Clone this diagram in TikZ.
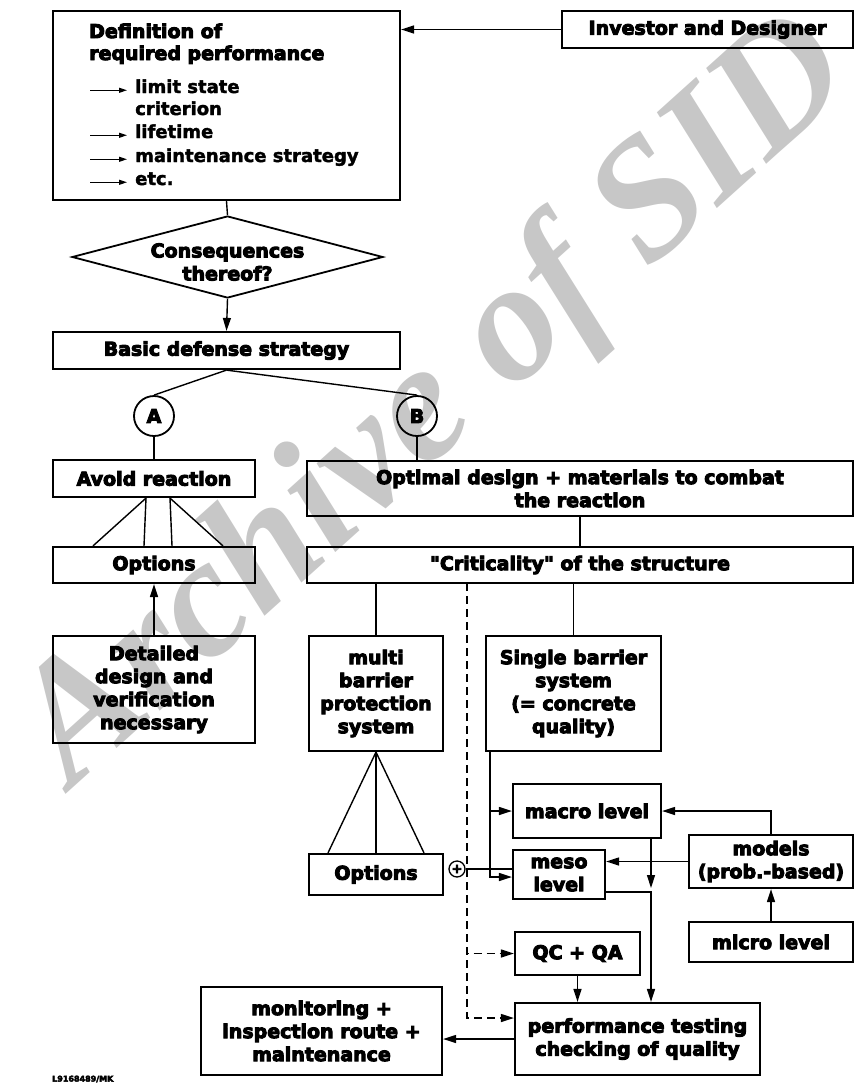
\documentclass[tikz,border=0pt]{standalone}
\usepackage{fontspec}
\setmainfont{DejaVu Sans}[BoldFeatures={FakeBold=5}]
\newfontfamily\itemfam{DejaVu Sans}[BoldFeatures={FakeBold=2}]
\newfontfamily\quotefam{DejaVu Sans}[BoldFeatures={FakeBold=5}]
\newfontfamily\wmfont{Liberation Serif}
\usetikzlibrary{arrows.meta,shapes.geometric}

\newcommand{\heavy}{\bfseries\fontsize{19}{23}\selectfont}
\newcommand{\itemtext}{\itemfam\bfseries\fontsize{18}{23}\selectfont}
\newcommand{\dq}{{\quotefam\bfseries"}}

\begin{document}
\begin{tikzpicture}[x=1pt,y=-1pt,
	box/.style={draw,line width=2.2pt,align=center,inner sep=0pt,font=\heavy},
	con/.style={line width=1.4pt},
	arr/.style={con,-{Triangle[length=13pt,width=8pt]}},
	darr/.style={arr,dash pattern=on 8pt off 5pt},
	itemarr/.style={line width=1.2pt,-{Triangle[length=8pt,width=5pt]}},
	ring/.style={draw,circle,line width=1.8pt,minimum size=40pt,inner sep=0pt,font=\heavy}]

	\useasboundingbox (0,0) rectangle (854,1085);

	% watermark
	\node[rotate=42,text=black!22,font=\wmfont\bfseries\itshape\fontsize{170}{170}\selectfont] (wm) at (438,404) {Archive of SID};

	% top part
	\node[box,minimum width=347pt,minimum height=189pt] (def) at (226.5,105.5) {};
	\node[anchor=base west,inner sep=0pt,font=\heavy] (title1) at (89,38) {Definition of};
	\node[anchor=base west,inner sep=0pt,font=\heavy] (title2) at (89,60) {required performance};
	\node[anchor=base west,inner sep=0pt,font=\itemtext] (it1) at (135,93) {limit state};
	\node[anchor=base west,inner sep=0pt,font=\itemtext] (it1b) at (135,115) {criterion};
	\node[anchor=base west,inner sep=0pt,font=\itemtext] (it2) at (135,138) {lifetime};
	\node[anchor=base west,inner sep=0pt,font=\itemtext] (it3) at (135,162) {maintenance strategy};
	\node[anchor=base west,inner sep=0pt,font=\itemtext] (it4) at (135,185) {etc.};
	\foreach \n in {it1,it2,it3,it4}
		\draw[itemarr] ([xshift=-45pt]\n.mid west) -- ([xshift=-8pt]\n.mid west);

	\node[box,minimum width=291pt,minimum height=37pt] (inv) at (707.5,29.5) {Investor and Designer};
	\draw[arr] (inv.west) -- (inv.west -| def.east);

	\node[draw,diamond,line width=1.8pt,minimum width=311pt,minimum height=82pt,inner sep=0pt,
		label={[font=\heavy,align=center,yshift=-5pt]center:Consequences\\thereof?}] (cons) at (227.5,257) {};
	\node[box,minimum width=347pt,minimum height=37pt] (basic) at (226.5,350.5) {Basic defense strategy};
	\draw[con] (def.south) -- (cons.north);
	\draw[arr] (cons.south) -- (basic.north);

	\node[ring] (ca) at (154,416) {A};
	\node[ring] (cb) at (417,416) {B};
	\draw[con] (basic.south) -- (ca.north);
	\draw[con] (basic.south) -- (cb.north);

	% branch A
	\node[box,minimum width=202pt,minimum height=37pt] (avoid) at (154,478.5) {Avoid reaction};
	\node[box,minimum width=202pt,minimum height=36pt] (optL) at (154,565) {Options};
	\node[box,minimum width=202pt,minimum height=107pt] (detail) at (154,689.5) {Detailed\\design and\\verification\\necessary};
	\draw[con] (ca.south) -- (avoid.north);
	\draw[con] ([xshift=-8pt]avoid.south) -- ([xshift=-61pt]optL.north);
	\draw[con] ([xshift=-8pt]avoid.south) -- ([xshift=-10pt]optL.north);
	\draw[con] ([xshift=16pt]avoid.south) -- ([xshift=18pt]optL.north);
	\draw[con] ([xshift=16pt]avoid.south) -- ([xshift=69pt]optL.north);
	\draw[arr] (detail.north) -- (optL.south);

	% branch B
	\node[box,minimum width=546pt,minimum height=55pt] (opt) at (580,488.5) {Optimal design + materials to combat\\the reaction};
	\node[box,minimum width=546pt,minimum height=36pt] (crit) at (580,565) {\dq Criticality\dq\ of the structure};
	\draw[con] (cb.south) -- (cb.south |- opt.north);
	\draw[con] (opt.south) -- (crit.north);

	\node[box,minimum width=134pt,minimum height=115pt] (multi) at (376,693.5) {multi\\barrier\\protection\\system};
	\node[box,minimum width=175pt,minimum height=115pt] (single) at (573.5,693.5) {Single barrier\\system\\(= concrete\\quality)};
	\draw[con] (multi.north |- crit.south) -- (multi.north);
	\draw[con] (single.north |- crit.south) -- (single.north);

	\node[box,minimum width=134pt,minimum height=41pt] (optR) at (376,874.5) {Options};
	\draw[con] (multi.south) -- ([xshift=-48pt]optR.north);
	\draw[con] (multi.south) -- (optR.north);
	\draw[con] (multi.south) -- ([xshift=48pt]optR.north);
	\node[draw,circle,line width=1.3pt,minimum size=16pt,inner sep=0pt,font=\bfseries\fontsize{13}{13}\selectfont] (plus) at (457,869) {+};

	% levels and models
	\node[box,minimum width=148pt,minimum height=54pt] (macro) at (587,811) {macro level};
	\node[box,minimum width=92pt,minimum height=49pt] (meso) at (559,874.5) {meso\\level};
	\node[box,minimum width=164pt,minimum height=53pt] (models) at (771,861.5) {models\\(prob.-based)};
	\node[box,minimum width=164pt,minimum height=40pt] (micro) at (771,942) {micro level};
	\node[box,minimum width=125pt,minimum height=43pt] (qc) at (577.5,953.5) {QC + QA};
	\node[box,minimum width=245pt,minimum height=72pt] (perf) at (637.5,1039) {performance testing\\checking of quality};
	\node[box,minimum width=241pt,minimum height=88pt] (mon) at (321.5,1031) {monitoring +\\inspection route +\\maintenance};

	\draw[con] (plus.east) -- (plus.east -| meso.west);
	\coordinate (sb) at ([xshift=5pt]single.south west);
	\draw[arr] (sb) |- (macro.west);
	\draw[arr] (sb) |- ([yshift=-2.5pt]meso.west);
	\draw[arr] (models.north) |- (macro.east);
	\draw[arr] (models.west) -- (models.west -| meso.east);
	\draw[arr] (micro.north) -- (models.south);
	\coordinate (join) at (651,891);
	\draw[arr] (macro.south -| join) -- ([yshift=3pt]join);
	\draw[arr] ([yshift=8pt]meso.south east) -| (join |- perf.north);
	\draw[arr] (qc.south) -- (qc.south |- perf.north);
	\coordinate (dtop) at (467,583);
	\draw[darr] (dtop) |- (qc.west);
	\draw[darr] (dtop) |- ([yshift=21pt]perf.west);
	\draw[arr] (perf.west) -- (perf.west -| mon.east);

	\node[anchor=west,inner sep=0pt,font=\bfseries\fontsize{8}{8}\selectfont] (tag) at (52,1079) {L9168489/MK};
\end{tikzpicture}
\end{document}
